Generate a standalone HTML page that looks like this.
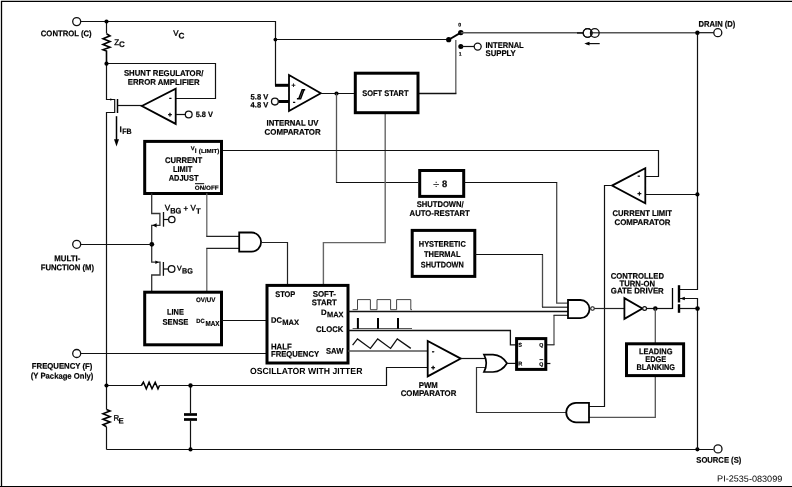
<!DOCTYPE html>
<html><head><meta charset="utf-8"><title>Functional Block Diagram</title>
<style>
html,body{margin:0;padding:0;background:#fff;}
body{width:792px;height:487px;overflow:hidden;}
svg{display:block;font-family:"Liberation Sans",sans-serif;will-change:transform;text-rendering:geometricPrecision;}
</style></head><body>
<svg width="792" height="487" viewBox="0 0 792 487">
<rect width="792" height="487" fill="#fff"/>
<path d="M1.5 487 L1.5 1.45 L792 1.45" stroke="#000" stroke-width="1.3" fill="none" />
<path d="M0 486.5 L792 486.5" stroke="#000" stroke-width="1.2" fill="none" />
<path d="M81 21.5 L275.5 21.5 L275.5 85.4" stroke="#111" stroke-width="1.2" fill="none" />
<circle cx="76.7" cy="21.6" r="4" fill="#fff" stroke="#111" stroke-width="1.3"/>
<path d="M106.5 21.5 L106.5 33.5" stroke="#111" stroke-width="1.2" fill="none" />
<path d="M106.5 33.8 L110 35.8 L103 38.8 L110 41.6 L103 44.4 L110 47.2 L103 49.8 L106.5 51 L106.5 63.5" stroke="#000" stroke-width="1.6" fill="none" />
<path d="M106.5 63.5 L215.5 63.5 L215.5 98.5 L176 98.5" stroke="#111" stroke-width="1.2" fill="none" />
<path d="M106.5 63.5 L106.5 99.5 L114.7 99.5 L114.7 112.5 L106.5 112.5 L106.5 409.6" stroke="#111" stroke-width="1.2" fill="none" />
<path d="M112.8 99.5 L110.4 98.2 L110.4 100.8 Z" fill="#000"/>
<path d="M106.5 426.8 L106.5 449.5" stroke="#111" stroke-width="1.2" fill="none" />
<path d="M117.5 99 L117.5 113" stroke="#000" stroke-width="1.5" fill="none" />
<path d="M117.8 105.5 L142 105.5" stroke="#111" stroke-width="1.2" fill="none" />
<path d="M175.7 88.8 L175.7 123.9 L141.9 106 Z" fill="#fff" stroke="#000" stroke-width="1.8" stroke-linejoin="miter"/>
<text transform="rotate(0.1 170.3 100.6)" x="170.3" y="100.6" font-size="8" font-weight="bold" text-anchor="middle" fill="#000"  stroke="#000" stroke-width="0.18">-</text>
<text transform="rotate(0.1 170.0 116.7)" x="170.0" y="116.7" font-size="6.6" font-weight="bold" text-anchor="middle" fill="#000" stroke="#000" stroke-width="0.45">+</text>
<path d="M176 114.5 L185 114.5" stroke="#111" stroke-width="1.2" fill="none" />
<circle cx="188.7" cy="114.5" r="3.4" fill="#fff" stroke="#111" stroke-width="1.3"/>
<text transform="rotate(0.1 195.7 117)" x="195.7" y="117" font-size="7.8" font-weight="bold" text-anchor="start" fill="#000" textLength="17.2" lengthAdjust="spacingAndGlyphs"  stroke="#000" stroke-width="0.18">5.8 V</text>
<text transform="rotate(0.1 163.7 75.9)" x="163.7" y="75.9" font-size="8.2" font-weight="bold" text-anchor="middle" fill="#000" textLength="79.5" lengthAdjust="spacingAndGlyphs"  stroke="#000" stroke-width="0.18">SHUNT REGULATOR/</text>
<text transform="rotate(0.1 163.7 84.9)" x="163.7" y="84.9" font-size="8.2" font-weight="bold" text-anchor="middle" fill="#000" textLength="72" lengthAdjust="spacingAndGlyphs"  stroke="#000" stroke-width="0.18">ERROR AMPLIFIER</text>
<text transform="rotate(0.1 40.8 36.2)" x="40.8" y="36.2" font-size="8.2" font-weight="bold" text-anchor="start" fill="#000" textLength="50.9" lengthAdjust="spacingAndGlyphs"  stroke="#000" stroke-width="0.18">CONTROL (C)</text>
<text transform="rotate(0.1 114.2 45)" x="114.2" y="45" font-size="8" text-anchor="start" fill="#000" stroke="#111" stroke-width="0.35">Z</text>
<text transform="rotate(0.1 119.1 47.1)" x="119.1" y="47.1" font-size="8" font-weight="bold" text-anchor="start" fill="#000"  stroke="#000" stroke-width="0.18">C</text>
<text transform="rotate(0.1 173.2 35.7)" x="173.2" y="35.7" font-size="7.9" text-anchor="start" fill="#000" stroke="#111" stroke-width="0.35">V</text>
<text transform="rotate(0.1 178.4 38.5)" x="178.4" y="38.5" font-size="8.2" font-weight="bold" text-anchor="start" fill="#000"  stroke="#000" stroke-width="0.18">C</text>
<path d="M116.5 116.2 L116.5 142" stroke="#000" stroke-width="1.5" fill="none" />
<path d="M114 139.3 L119 139.3 L116.5 146.4 Z" fill="#000"/>
<text transform="rotate(0.1 119.6 132.2)" x="119.6" y="132.2" font-size="8.2" font-weight="bold" text-anchor="start" fill="#000"  stroke="#000" stroke-width="0.18">I</text>
<text transform="rotate(0.1 122.3 134.1)" x="122.3" y="134.1" font-size="7.8" font-weight="bold" text-anchor="start" fill="#000" textLength="9.4" lengthAdjust="spacingAndGlyphs"  stroke="#000" stroke-width="0.18">FB</text>
<path d="M275.5 39.5 L449 39.5" stroke="#111" stroke-width="1.2" fill="none" />
<circle cx="106.5" cy="21.5" r="2.1" fill="#000"/>
<circle cx="106.5" cy="63.7" r="2.1" fill="#000"/>
<circle cx="275.4" cy="39.6" r="1.9" fill="#000"/>
<path d="M275 85.3 L289 85.3" stroke="#000" stroke-width="3" fill="none" />
<path d="M278.5 101.5 L289 101.5" stroke="#000" stroke-width="3" fill="none" />
<circle cx="274.9" cy="101.6" r="3.4" fill="#fff" stroke="#111" stroke-width="1.3"/>
<path d="M289 75 L289 111 L320.8 93.2 Z" fill="#fff" stroke="#000" stroke-width="1.8"/>
<text transform="rotate(0.1 293.6 87.6)" x="293.6" y="87.6" font-size="6.8" font-weight="bold" text-anchor="middle" fill="#000"  stroke="#000" stroke-width="0.18">+</text>
<text transform="rotate(0.1 294 104.4)" x="294" y="104.4" font-size="8" font-weight="bold" text-anchor="middle" fill="#000"  stroke="#000" stroke-width="0.18">-</text>
<path d="M296.9 98.8 L300.6 98.8 L304 89.7 M298.8 98.8 L302.2 89.7 L305.2 89.7" stroke="#000" stroke-width="1.5" fill="none"/>
<text transform="rotate(0.1 250.6 99.6)" x="250.6" y="99.6" font-size="7.8" font-weight="bold" text-anchor="start" fill="#000" textLength="17.6" lengthAdjust="spacingAndGlyphs"  stroke="#000" stroke-width="0.18">5.8 V</text>
<text transform="rotate(0.1 250.6 107.6)" x="250.6" y="107.6" font-size="7.8" font-weight="bold" text-anchor="start" fill="#000" textLength="17.6" lengthAdjust="spacingAndGlyphs"  stroke="#000" stroke-width="0.18">4.8 V</text>
<text transform="rotate(0.1 292.5 125.8)" x="292.5" y="125.8" font-size="8.2" font-weight="bold" text-anchor="middle" fill="#000" textLength="52" lengthAdjust="spacingAndGlyphs"  stroke="#000" stroke-width="0.18">INTERNAL UV</text>
<text transform="rotate(0.1 292.6 134.8)" x="292.6" y="134.8" font-size="8.2" font-weight="bold" text-anchor="middle" fill="#000" textLength="56.1" lengthAdjust="spacingAndGlyphs"  stroke="#000" stroke-width="0.18">COMPARATOR</text>
<path d="M321 93.5 L355 93.5" stroke="#111" stroke-width="1.2" fill="none" />
<circle cx="336.5" cy="93.5" r="2.1" fill="#000"/>
<path d="M336.5 93.5 L336.5 182.5" stroke="#555" stroke-width="1.3" fill="none" />
<path d="M336 182.5 L418 182.5" stroke="#111" stroke-width="1.2" fill="none" />
<path d="M385.2 113 L385.2 242.6 L323.4 242.6 L323.4 285" stroke="#666" stroke-width="1.4" fill="none" />
<path d="M455.8 93.5 L455.8 40" stroke="#666" stroke-width="1.4" fill="none" />
<path d="M418 93.5 L456.4 93.5" stroke="#111" stroke-width="1.3" fill="none" />
<rect x="355.3" y="73.2" width="62.69999999999999" height="39.5" fill="#fff" stroke="#000" stroke-width="3"/>
<text transform="rotate(0.1 385.4 96)" x="385.4" y="96" font-size="8.2" font-weight="bold" text-anchor="middle" fill="#000" textLength="46.2" lengthAdjust="spacingAndGlyphs"  stroke="#000" stroke-width="0.18">SOFT START</text>
<path d="M448.7 39.7 L460.8 32.6" stroke="#000" stroke-width="1.8" fill="none" />
<circle cx="448.7" cy="39.7" r="2.6" fill="#000"/>
<circle cx="460.8" cy="32.6" r="2.7" fill="#000"/>
<circle cx="460.8" cy="46.4" r="2.5" fill="#000"/>
<path d="M460.8 32.8 L697.5 32.8" stroke="#555" stroke-width="1.4" fill="none" />
<path d="M460.8 46.5 L474 46.5" stroke="#111" stroke-width="1.2" fill="none" />
<circle cx="477.7" cy="46.6" r="3.5" fill="#fff" stroke="#111" stroke-width="1.3"/>
<text transform="rotate(0.1 459.6 26.5)" x="459.6" y="26.5" font-size="5.2" font-weight="bold" text-anchor="middle" fill="#000"  stroke="#000" stroke-width="0.18">0</text>
<text transform="rotate(0.1 460.2 55.8)" x="460.2" y="55.8" font-size="5.2" font-weight="bold" text-anchor="middle" fill="#000"  stroke="#000" stroke-width="0.18">1</text>
<text transform="rotate(0.1 485.5 48)" x="485.5" y="48" font-size="8.2" font-weight="bold" text-anchor="start" fill="#000" textLength="38.2" lengthAdjust="spacingAndGlyphs"  stroke="#000" stroke-width="0.18">INTERNAL</text>
<text transform="rotate(0.1 485.5 55.9)" x="485.5" y="55.9" font-size="8.2" font-weight="bold" text-anchor="start" fill="#000" textLength="30.3" lengthAdjust="spacingAndGlyphs"  stroke="#000" stroke-width="0.18">SUPPLY</text>
<path d="M577 33 L583 33" stroke="#000" stroke-width="1.2" fill="none" />
<circle cx="587.6" cy="33" r="4.35" fill="#fff" stroke="#111" stroke-width="1.3"/>
<circle cx="594.8" cy="33" r="4.35" fill="none" stroke="#111" stroke-width="1.3"/>
<circle cx="587.6" cy="33" r="4.35" fill="none" stroke="#111" stroke-width="1.3"/>
<path d="M599.7 43.6 L586 43.6" stroke="#111" stroke-width="1.2" fill="none" />
<path d="M584.3 43.6 L589.5 41.8 L589.5 45.4 Z" fill="#000"/>
<path d="M697.5 32.7 L714 32.7" stroke="#111" stroke-width="1.2" fill="none" />
<path d="M697.5 32.7 L697.5 289.5 L679 289.5" stroke="#111" stroke-width="1.2" fill="none" />
<circle cx="697.4" cy="32.7" r="2.2" fill="#000"/>
<circle cx="717.8" cy="32.7" r="4" fill="#fff" stroke="#111" stroke-width="1.3"/>
<text transform="rotate(0.1 698.6 26.8)" x="698.6" y="26.8" font-size="8.2" font-weight="bold" text-anchor="start" fill="#000" textLength="36.8" lengthAdjust="spacingAndGlyphs"  stroke="#000" stroke-width="0.18">DRAIN (D)</text>
<path d="M221.5 150.5 L658.5 150.5 L658.5 176.5 L645.3 176.5" stroke="#111" stroke-width="1.2" fill="none" />
<path d="M645.3 194.5 L697.5 194.5" stroke="#111" stroke-width="1.2" fill="none" />
<circle cx="697.4" cy="194.4" r="2.1" fill="#000"/>
<path d="M645.3 168.3 L645.3 203.3 L612 185.6 Z" fill="#fff" stroke="#000" stroke-width="1.8"/>
<text transform="rotate(0.1 638.8 178.2)" x="638.8" y="178.2" font-size="8" font-weight="bold" text-anchor="middle" fill="#000"  stroke="#000" stroke-width="0.18">-</text>
<text transform="rotate(0.1 639.4 195.7)" x="639.4" y="195.7" font-size="6.6" font-weight="bold" text-anchor="middle" fill="#000" stroke="#000" stroke-width="0.45">+</text>
<path d="M612 185.5 L604.5 185.5 L604.5 406.5 L589 406.5" stroke="#111" stroke-width="1.2" fill="none" />
<text transform="rotate(0.1 642.3 216)" x="642.3" y="216" font-size="8.2" font-weight="bold" text-anchor="middle" fill="#000" textLength="59.4" lengthAdjust="spacingAndGlyphs"  stroke="#000" stroke-width="0.18">CURRENT LIMIT</text>
<text transform="rotate(0.1 642.5 225.1)" x="642.5" y="225.1" font-size="8.2" font-weight="bold" text-anchor="middle" fill="#000" textLength="56.1" lengthAdjust="spacingAndGlyphs"  stroke="#000" stroke-width="0.18">COMPARATOR</text>
<rect x="419.7" y="170.5" width="44.0" height="25.900000000000006" fill="#fff" stroke="#000" stroke-width="3"/>
<text transform="rotate(0.1 436.1 188.2)" x="436.1" y="188.2" font-size="11.5" text-anchor="middle" fill="#000" >÷</text>
<text transform="rotate(0.1 442 186.9)" x="442" y="186.9" font-size="9.4" font-weight="bold" text-anchor="start" fill="#000"  stroke="#000" stroke-width="0.18">8</text>
<path d="M556.7 182.5 L556.7 303.1 L568 303.1" stroke="#4a4a4a" stroke-width="1.3" fill="none" />
<path d="M464.2 182.5 L557.2 182.5" stroke="#111" stroke-width="1.2" fill="none" />
<text transform="rotate(0.1 440.2 207.1)" x="440.2" y="207.1" font-size="8.2" font-weight="bold" text-anchor="middle" fill="#000" textLength="47" lengthAdjust="spacingAndGlyphs"  stroke="#000" stroke-width="0.18">SHUTDOWN/</text>
<text transform="rotate(0.1 439.7 216)" x="439.7" y="216" font-size="8.2" font-weight="bold" text-anchor="middle" fill="#000" textLength="60.2" lengthAdjust="spacingAndGlyphs"  stroke="#000" stroke-width="0.18">AUTO-RESTART</text>
<rect x="412.2" y="230.4" width="62.60000000000002" height="45.99999999999997" fill="#fff" stroke="#000" stroke-width="3"/>
<text transform="rotate(0.1 442.3 246.7)" x="442.3" y="246.7" font-size="8.2" font-weight="bold" text-anchor="middle" fill="#000" textLength="47" lengthAdjust="spacingAndGlyphs"  stroke="#000" stroke-width="0.18">HYSTERETIC</text>
<text transform="rotate(0.1 442.3 257)" x="442.3" y="257" font-size="8.2" font-weight="bold" text-anchor="middle" fill="#000" textLength="36.5" lengthAdjust="spacingAndGlyphs"  stroke="#000" stroke-width="0.18">THERMAL</text>
<text transform="rotate(0.1 442.3 267.6)" x="442.3" y="267.6" font-size="8.2" font-weight="bold" text-anchor="middle" fill="#000" textLength="43" lengthAdjust="spacingAndGlyphs"  stroke="#000" stroke-width="0.18">SHUTDOWN</text>
<path d="M542.5 254.5 L542.5 307.2" stroke="#4a4a4a" stroke-width="1.3" fill="none" />
<path d="M475 254.5 L543 254.5" stroke="#111" stroke-width="1.2" fill="none" />
<path d="M542 307.2 L568 307.2" stroke="#222" stroke-width="1.2" fill="none" />
<rect x="144.7" y="141.4" width="76.80000000000001" height="52.099999999999994" fill="#fff" stroke="#000" stroke-width="3"/>
<text transform="rotate(0.1 190.7 150.2)" x="190.7" y="150.2" font-size="5.8" font-weight="bold" text-anchor="start" fill="#000"  stroke="#000" stroke-width="0.18">V</text>
<text transform="rotate(0.1 194.8 153)" x="194.8" y="153" font-size="6.4" font-weight="bold" text-anchor="start" fill="#000"  stroke="#000" stroke-width="0.18">I</text>
<text transform="rotate(0.1 198.8 153)" x="198.8" y="153" font-size="5.8" font-weight="bold" text-anchor="start" fill="#000" textLength="20.6" lengthAdjust="spacingAndGlyphs"  stroke="#000" stroke-width="0.18">(LIMIT)</text>
<text transform="rotate(0.1 183.6 163)" x="183.6" y="163" font-size="8.2" font-weight="bold" text-anchor="middle" fill="#000" textLength="37.4" lengthAdjust="spacingAndGlyphs"  stroke="#000" stroke-width="0.18">CURRENT</text>
<text transform="rotate(0.1 182.6 172)" x="182.6" y="172" font-size="8.2" font-weight="bold" text-anchor="middle" fill="#000" textLength="19.4" lengthAdjust="spacingAndGlyphs"  stroke="#000" stroke-width="0.18">LIMIT</text>
<text transform="rotate(0.1 183.6 180.8)" x="183.6" y="180.8" font-size="8.2" font-weight="bold" text-anchor="middle" fill="#000" textLength="29.8" lengthAdjust="spacingAndGlyphs"  stroke="#000" stroke-width="0.18">ADJUST</text>
<text transform="rotate(0.1 194.8 189.7)" x="194.8" y="189.7" font-size="5.9" font-weight="bold" text-anchor="start" fill="#000" textLength="23.8" lengthAdjust="spacingAndGlyphs"  stroke="#000" stroke-width="0.18">ON/OFF</text>
<path d="M195 183.7 L204.2 183.7" stroke="#000" stroke-width="1" fill="none" />
<path d="M151.7 193.2 L151.7 213.5 L159.9 213.5 L159.9 225.3 L151.7 225.3 L151.7 262.2 L160 262.2 L160 275 L151.7 275 L151.7 291.7" stroke="#333" stroke-width="1.3" fill="none" />
<path d="M152.4 225.3 L156.6 223.2 L156.6 227.4 Z" fill="#000"/>
<path d="M158.8 262.2 L155.4 260.5 L155.4 263.9 Z" fill="#000"/>
<path d="M163.5 212 L163.5 226.7" stroke="#111" stroke-width="1.3" fill="none" />
<path d="M163.4 219.5 L168.3 219.5" stroke="#111" stroke-width="1.2" fill="none" />
<circle cx="171.8" cy="219.5" r="3.2" fill="#fff" stroke="#111" stroke-width="1.3"/>
<path d="M163.4 262 L163.4 275.8" stroke="#111" stroke-width="1.3" fill="none" />
<path d="M163.4 269 L168.3 269" stroke="#111" stroke-width="1.2" fill="none" />
<circle cx="171.6" cy="269" r="3.3" fill="#fff" stroke="#111" stroke-width="1.3"/>
<circle cx="151.8" cy="244.3" r="2.4" fill="#000"/>
<text transform="rotate(0.1 164.7 210.5)" x="164.7" y="210.5" font-size="8.2" text-anchor="start" fill="#000" stroke="#111" stroke-width="0.35">V</text>
<text transform="rotate(0.1 170.2 213.6)" x="170.2" y="213.6" font-size="8" font-weight="bold" text-anchor="start" fill="#000" textLength="11.1" lengthAdjust="spacingAndGlyphs"  stroke="#000" stroke-width="0.18">BG</text>
<text transform="rotate(0.1 185.7 211)" x="185.7" y="211" font-size="7.8" font-weight="bold" text-anchor="middle" fill="#000"  stroke="#000" stroke-width="0.18">+</text>
<text transform="rotate(0.1 190.5 210.5)" x="190.5" y="210.5" font-size="8" text-anchor="start" fill="#000" stroke="#111" stroke-width="0.35">V</text>
<text transform="rotate(0.1 195.9 213.8)" x="195.9" y="213.8" font-size="7.8" font-weight="bold" text-anchor="start" fill="#000"  stroke="#000" stroke-width="0.18">T</text>
<text transform="rotate(0.1 177 270.4)" x="177" y="270.4" font-size="7" text-anchor="start" fill="#000" stroke="#111" stroke-width="0.35">V</text>
<text transform="rotate(0.1 182.1 273.6)" x="182.1" y="273.6" font-size="7.6" font-weight="bold" text-anchor="start" fill="#000" textLength="10.8" lengthAdjust="spacingAndGlyphs"  stroke="#000" stroke-width="0.18">BG</text>
<path d="M206.8 193.2 L206.8 236.4" stroke="#666" stroke-width="1.3" fill="none" />
<path d="M206.3 236.4 L239.2 236.4" stroke="#222" stroke-width="1.2" fill="none" />
<path d="M206.8 248.4 L206.8 291.7" stroke="#666" stroke-width="1.3" fill="none" />
<path d="M239.2 248.4 L206.3 248.4" stroke="#222" stroke-width="1.2" fill="none" />
<path d="M239.2 232.5 L251.5 232.5 A9.6 9.6 0 0 1 251.5 251.7 L239.2 251.7 Z" fill="#fff" stroke="#000" stroke-width="1.8"/>
<path d="M261.2 242.5 L287.5 242.5 L287.5 285" stroke="#222" stroke-width="1.2" fill="none" />
<path d="M81 244.5 L151.7 244.5" stroke="#111" stroke-width="1.2" fill="none" />
<circle cx="76.7" cy="244.3" r="4" fill="#fff" stroke="#111" stroke-width="1.3"/>
<text transform="rotate(0.1 67.3 261.2)" x="67.3" y="261.2" font-size="8.2" font-weight="bold" text-anchor="middle" fill="#000" textLength="26" lengthAdjust="spacingAndGlyphs"  stroke="#000" stroke-width="0.18">MULTI-</text>
<text transform="rotate(0.1 40.7 270.3)" x="40.7" y="270.3" font-size="8.2" font-weight="bold" text-anchor="start" fill="#000" textLength="53.3" lengthAdjust="spacingAndGlyphs"  stroke="#000" stroke-width="0.18">FUNCTION (M)</text>
<rect x="144.7" y="292.2" width="76.80000000000001" height="52.60000000000002" fill="#fff" stroke="#000" stroke-width="3"/>
<text transform="rotate(0.1 196 301.9)" x="196" y="301.9" font-size="6.4" font-weight="bold" text-anchor="start" fill="#000" textLength="19.3" lengthAdjust="spacingAndGlyphs"  stroke="#000" stroke-width="0.18">OV/UV</text>
<text transform="rotate(0.1 175.4 314.7)" x="175.4" y="314.7" font-size="8.2" font-weight="bold" text-anchor="middle" fill="#000" textLength="16.8" lengthAdjust="spacingAndGlyphs"  stroke="#000" stroke-width="0.18">LINE</text>
<text transform="rotate(0.1 175.4 324.8)" x="175.4" y="324.8" font-size="8.2" font-weight="bold" text-anchor="middle" fill="#000" textLength="25.9" lengthAdjust="spacingAndGlyphs"  stroke="#000" stroke-width="0.18">SENSE</text>
<text transform="rotate(0.1 196.3 322.9)" x="196.3" y="322.9" font-size="6.2" font-weight="bold" text-anchor="start" fill="#000" textLength="8.4" lengthAdjust="spacingAndGlyphs"  stroke="#000" stroke-width="0.18">DC</text>
<text transform="rotate(0.1 205.4 325.9)" x="205.4" y="325.9" font-size="7.2" font-weight="bold" text-anchor="start" fill="#000" textLength="14" lengthAdjust="spacingAndGlyphs"  stroke="#000" stroke-width="0.18">MAX</text>
<path d="M221.3 320.5 L266.7 320.5" stroke="#111" stroke-width="1.2" fill="none" />
<path d="M81 353.5 L266.7 353.5" stroke="#111" stroke-width="1.2" fill="none" />
<circle cx="76.7" cy="353.5" r="4" fill="#fff" stroke="#111" stroke-width="1.3"/>
<text transform="rotate(0.1 31.8 368.8)" x="31.8" y="368.8" font-size="8.2" font-weight="bold" text-anchor="start" fill="#000" textLength="60.6" lengthAdjust="spacingAndGlyphs"  stroke="#000" stroke-width="0.18">FREQUENCY (F)</text>
<text transform="rotate(0.1 30.8 378.6)" x="30.8" y="378.6" font-size="8.2" font-weight="bold" text-anchor="start" fill="#000" textLength="62.6" lengthAdjust="spacingAndGlyphs"  stroke="#000" stroke-width="0.18">(Y Package Only)</text>
<path d="M106.5 385.5 L141.7 385.5" stroke="#111" stroke-width="1.2" fill="none" />
<path d="M141.4 385.5 L143.4 382.2 L146.3 388.8 L149.1 382.2 L152 388.8 L155.2 382.2 L158 388.8 L159.5 385.5" stroke="#000" stroke-width="1.5" fill="none" />
<path d="M159.3 385.5 L386.5 385.5 L386.5 367.5 L427.7 367.5" stroke="#111" stroke-width="1.2" fill="none" />
<path d="M190.5 385.5 L190.5 413.3" stroke="#111" stroke-width="1.2" fill="none" />
<path d="M190.5 420.6 L190.5 449.5" stroke="#111" stroke-width="1.2" fill="none" />
<path d="M184 414.5 L197 414.5" stroke="#000" stroke-width="2.7" fill="none" />
<path d="M184 419.5 L197 419.5" stroke="#000" stroke-width="2.7" fill="none" />
<path d="M106.5 409.6 L110 411 L103 413.8 L110 416.6 L103 419.2 L110 422 L103 424.7 L106.5 426.8" stroke="#000" stroke-width="1.6" fill="none" />
<text transform="rotate(0.1 113.4 420.5)" x="113.4" y="420.5" font-size="7.8" text-anchor="start" fill="#000" stroke="#111" stroke-width="0.35">R</text>
<text transform="rotate(0.1 118.4 423.6)" x="118.4" y="423.6" font-size="7.8" font-weight="bold" text-anchor="start" fill="#000"  stroke="#000" stroke-width="0.18">E</text>
<path d="M106.5 449.5 L713.5 449.5" stroke="#111" stroke-width="1.2" fill="none" />
<circle cx="106.5" cy="385.5" r="2.1" fill="#000"/>
<circle cx="190.5" cy="385.5" r="2.2" fill="#000"/>
<circle cx="190.5" cy="449.4" r="2.1" fill="#000"/>
<circle cx="697.4" cy="449.3" r="2.1" fill="#000"/>
<circle cx="718" cy="448.9" r="4" fill="#fff" stroke="#111" stroke-width="1.3"/>
<text transform="rotate(0.1 696.3 462.7)" x="696.3" y="462.7" font-size="8.2" font-weight="bold" text-anchor="start" fill="#000" textLength="45" lengthAdjust="spacingAndGlyphs"  stroke="#000" stroke-width="0.18">SOURCE (S)</text>
<text transform="rotate(0.1 717.1 481.6)" x="717.1" y="481.6" font-size="8.8" text-anchor="start" fill="#000" textLength="65.2" lengthAdjust="spacingAndGlyphs" >PI-2535-083099</text>
<rect x="267" y="285.4" width="81" height="77.60000000000002" fill="#fff" stroke="#000" stroke-width="3"/>
<text transform="rotate(0.1 275.3 297)" x="275.3" y="297" font-size="8.2" font-weight="bold" text-anchor="start" fill="#000" textLength="20" lengthAdjust="spacingAndGlyphs"  stroke="#000" stroke-width="0.18">STOP</text>
<text transform="rotate(0.1 312.7 296.8)" x="312.7" y="296.8" font-size="8.2" font-weight="bold" text-anchor="start" fill="#000" textLength="23.3" lengthAdjust="spacingAndGlyphs"  stroke="#000" stroke-width="0.18">SOFT-</text>
<text transform="rotate(0.1 311.7 305.2)" x="311.7" y="305.2" font-size="8.2" font-weight="bold" text-anchor="start" fill="#000" textLength="25" lengthAdjust="spacingAndGlyphs"  stroke="#000" stroke-width="0.18">START</text>
<text transform="rotate(0.1 321 315.1)" x="321" y="315.1" font-size="7.8" font-weight="bold" text-anchor="start" fill="#000"  stroke="#000" stroke-width="0.18">D</text>
<text transform="rotate(0.1 327 317.2)" x="327" y="317.2" font-size="7.8" font-weight="bold" text-anchor="start" fill="#000" textLength="16.5" lengthAdjust="spacingAndGlyphs"  stroke="#000" stroke-width="0.18">MAX</text>
<text transform="rotate(0.1 271.1 322.8)" x="271.1" y="322.8" font-size="7.8" font-weight="bold" text-anchor="start" fill="#000" textLength="10.9" lengthAdjust="spacingAndGlyphs"  stroke="#000" stroke-width="0.18">DC</text>
<text transform="rotate(0.1 282.3 324.9)" x="282.3" y="324.9" font-size="7.8" font-weight="bold" text-anchor="start" fill="#000" textLength="16.8" lengthAdjust="spacingAndGlyphs"  stroke="#000" stroke-width="0.18">MAX</text>
<text transform="rotate(0.1 316 332)" x="316" y="332" font-size="8.2" font-weight="bold" text-anchor="start" fill="#000" textLength="27.3" lengthAdjust="spacingAndGlyphs"  stroke="#000" stroke-width="0.18">CLOCK</text>
<text transform="rotate(0.1 271 349.4)" x="271" y="349.4" font-size="8.2" font-weight="bold" text-anchor="start" fill="#000" textLength="20.7" lengthAdjust="spacingAndGlyphs"  stroke="#000" stroke-width="0.18">HALF</text>
<text transform="rotate(0.1 271 356.8)" x="271" y="356.8" font-size="8.2" font-weight="bold" text-anchor="start" fill="#000" textLength="48" lengthAdjust="spacingAndGlyphs"  stroke="#000" stroke-width="0.18">FREQUENCY</text>
<text transform="rotate(0.1 326 353.7)" x="326" y="353.7" font-size="8.2" font-weight="bold" text-anchor="start" fill="#000" textLength="17.3" lengthAdjust="spacingAndGlyphs"  stroke="#000" stroke-width="0.18">SAW</text>
<text transform="rotate(0.1 250 373.9)" x="250" y="373.9" font-size="8.9" font-weight="bold" text-anchor="start" fill="#000" textLength="112.4" lengthAdjust="spacingAndGlyphs" stroke="none">OSCILLATOR WITH JITTER</text>
<path d="M348.2 311.5 L568 311.5" stroke="#111" stroke-width="1.3" fill="none" />
<path d="M352.6 309.7 L357.5 309.7 L357.5 299.6 L370.4 299.6 L370.4 309.7 L377 309.7 L377 299.6 L390.6 299.6 L390.6 309.7 L396.6 309.7 L396.6 299.6 L410.8 299.6 L410.8 309.7 L412 309.7" stroke="#444" stroke-width="1" fill="none" />
<path d="M348.2 330.5 L510.4 330.5 L510.4 344.8 L516 344.8" stroke="#111" stroke-width="1.3" fill="none" />
<path d="M352.6 328.5 L412 328.5" stroke="#555" stroke-width="1" fill="none" />
<path d="M357.9 318 L357.9 328.8" stroke="#000" stroke-width="2" fill="none" />
<path d="M378 318 L378 328.8" stroke="#000" stroke-width="2" fill="none" />
<path d="M398 318 L398 328.8" stroke="#000" stroke-width="2" fill="none" />
<path d="M348.2 350.9 L427.7 350.9" stroke="#555" stroke-width="1.5" fill="none" />
<path d="M352.6 345.2 L357.5 338.9 L370.4 348.4 L377.7 338.9 L390.6 348.4 L397.3 338.9 L410.8 348.4" stroke="#111" stroke-width="1.3" fill="none" />
<path d="M427.7 340.9 L427.7 376.4 L460.8 358.6 Z" fill="#fff" stroke="#000" stroke-width="1.8"/>
<text transform="rotate(0.1 433.2 353.8)" x="433.2" y="353.8" font-size="8" font-weight="bold" text-anchor="middle" fill="#000"  stroke="#000" stroke-width="0.18">-</text>
<text transform="rotate(0.1 433.3 369.7)" x="433.3" y="369.7" font-size="6.6" font-weight="bold" text-anchor="middle" fill="#000" stroke="#000" stroke-width="0.45">+</text>
<text transform="rotate(0.1 428.3 388)" x="428.3" y="388" font-size="8.2" font-weight="bold" text-anchor="middle" fill="#000" textLength="19" lengthAdjust="spacingAndGlyphs"  stroke="#000" stroke-width="0.18">PWM</text>
<text transform="rotate(0.1 428.5 396)" x="428.5" y="396" font-size="8.2" font-weight="bold" text-anchor="middle" fill="#000" textLength="55.6" lengthAdjust="spacingAndGlyphs"  stroke="#000" stroke-width="0.18">COMPARATOR</text>
<path d="M460.8 358.5 L487 358.5" stroke="#111" stroke-width="1.2" fill="none" />
<path d="M488.5 367.5 L476.5 367.5 L476.5 412.5 L566 412.5" stroke="#333" stroke-width="1.2" fill="none" />
<path d="M484 354.6 L493 354.6 Q502 355.2 507 363.2 Q502 371.4 493 372 L484 372 Q488.6 363.3 484 354.6 Z" fill="#fff" stroke="#000" stroke-width="1.7"/>
<path d="M507 363.4 L516 363.4" stroke="#111" stroke-width="1.2" fill="none" />
<path d="M554 344.8 L554 315.3" stroke="#555" stroke-width="1.3" fill="none" />
<path d="M546 344.8 L554.5 344.8" stroke="#222" stroke-width="1.2" fill="none" />
<path d="M553.5 315.3 L568 315.3" stroke="#222" stroke-width="1.2" fill="none" />
<path d="M546 363.5 L550.4 363.5" stroke="#111" stroke-width="1.2" fill="none" />
<rect x="516.6" y="338.6" width="29.199999999999932" height="30.799999999999955" fill="#fff" stroke="#000" stroke-width="3"/>
<text transform="rotate(0.1 520.2 346.8)" x="520.2" y="346.8" font-size="5.6" font-weight="bold" text-anchor="middle" fill="#000"  stroke="#000" stroke-width="0.18">S</text>
<text transform="rotate(0.1 520.2 365.4)" x="520.2" y="365.4" font-size="5.6" font-weight="bold" text-anchor="middle" fill="#000"  stroke="#000" stroke-width="0.18">R</text>
<text transform="rotate(0.1 541.3 346.8)" x="541.3" y="346.8" font-size="5.2" font-weight="bold" text-anchor="middle" fill="#000"  stroke="#000" stroke-width="0.18">Q</text>
<text transform="rotate(0.1 541.3 366.1)" x="541.3" y="366.1" font-size="5.2" font-weight="bold" text-anchor="middle" fill="#000"  stroke="#000" stroke-width="0.18">Q</text>
<path d="M539.5 359.6 L543.2 359.6" stroke="#000" stroke-width="0.9" fill="none" />
<path d="M568 300 L580.4 300 A9.1 9.1 0 0 1 580.4 318.2 L568 318.2 Z" fill="#fff" stroke="#000" stroke-width="1.8"/>
<circle cx="592.5" cy="308.5" r="1.8" fill="#fff" stroke="#111" stroke-width="1.1"/>
<path d="M594.4 308.5 L624.2 308.5" stroke="#222" stroke-width="1.2" fill="none" />
<path d="M624.4 298.1 L624.4 318.9 L642.4 308.5 Z" fill="#fff" stroke="#000" stroke-width="1.8"/>
<circle cx="644.6" cy="308.5" r="1.9" fill="#fff" stroke="#111" stroke-width="1.2"/>
<path d="M646.6 308.5 L672.5 308.5" stroke="#111" stroke-width="1.2" fill="none" />
<circle cx="655.3" cy="308.6" r="2.3" fill="#000"/>
<text transform="rotate(0.1 637.3 278.8)" x="637.3" y="278.8" font-size="8.2" font-weight="bold" text-anchor="middle" fill="#000" textLength="53.3" lengthAdjust="spacingAndGlyphs"  stroke="#000" stroke-width="0.18">CONTROLLED</text>
<text transform="rotate(0.1 637.3 286.4)" x="637.3" y="286.4" font-size="8.2" font-weight="bold" text-anchor="middle" fill="#000" textLength="35.5" lengthAdjust="spacingAndGlyphs"  stroke="#000" stroke-width="0.18">TURN-ON</text>
<text transform="rotate(0.1 637.3 293.6)" x="637.3" y="293.6" font-size="8.2" font-weight="bold" text-anchor="middle" fill="#000" textLength="53" lengthAdjust="spacingAndGlyphs"  stroke="#000" stroke-width="0.18">GATE DRIVER</text>
<path d="M672.5 288 L672.5 309" stroke="#000" stroke-width="1.3" fill="none" />
<path d="M679 285.2 L679 302.5" stroke="#000" stroke-width="2.4" fill="none" />
<path d="M679 304.2 L679 312.8" stroke="#000" stroke-width="2.4" fill="none" />
<path d="M679 298.5 L697.5 298.5 L697.5 449.5" stroke="#111" stroke-width="1.2" fill="none" />
<path d="M680.2 298.5 L684.8 296.7 L684.8 300.3 Z" fill="#000"/>
<path d="M679 308.5 L697.5 308.5" stroke="#111" stroke-width="1.2" fill="none" />
<circle cx="697.5" cy="308.6" r="2.3" fill="#000"/>
<path d="M655.3 308.6 L655.3 343.5" stroke="#555" stroke-width="1.3" fill="none" />
<path d="M655.3 376 L655.3 417.4 L589 417.4" stroke="#555" stroke-width="1.3" fill="none" />
<rect x="626.5" y="343.8" width="57.10000000000002" height="31.80000000000001" fill="#fff" stroke="#000" stroke-width="3"/>
<text transform="rotate(0.1 655.7 354.3)" x="655.7" y="354.3" font-size="8.2" font-weight="bold" text-anchor="middle" fill="#000" textLength="33.5" lengthAdjust="spacingAndGlyphs"  stroke="#000" stroke-width="0.18">LEADING</text>
<text transform="rotate(0.1 655.7 362)" x="655.7" y="362" font-size="8.2" font-weight="bold" text-anchor="middle" fill="#000" textLength="21" lengthAdjust="spacingAndGlyphs"  stroke="#000" stroke-width="0.18">EDGE</text>
<text transform="rotate(0.1 655.7 370)" x="655.7" y="370" font-size="8.2" font-weight="bold" text-anchor="middle" fill="#000" textLength="38.5" lengthAdjust="spacingAndGlyphs"  stroke="#000" stroke-width="0.18">BLANKING</text>
<path d="M589 402.8 L576 402.8 A9.75 9.75 0 0 0 576 422.3 L589 422.3 Z" fill="#fff" stroke="#000" stroke-width="1.8"/>
</svg>
</body></html>
